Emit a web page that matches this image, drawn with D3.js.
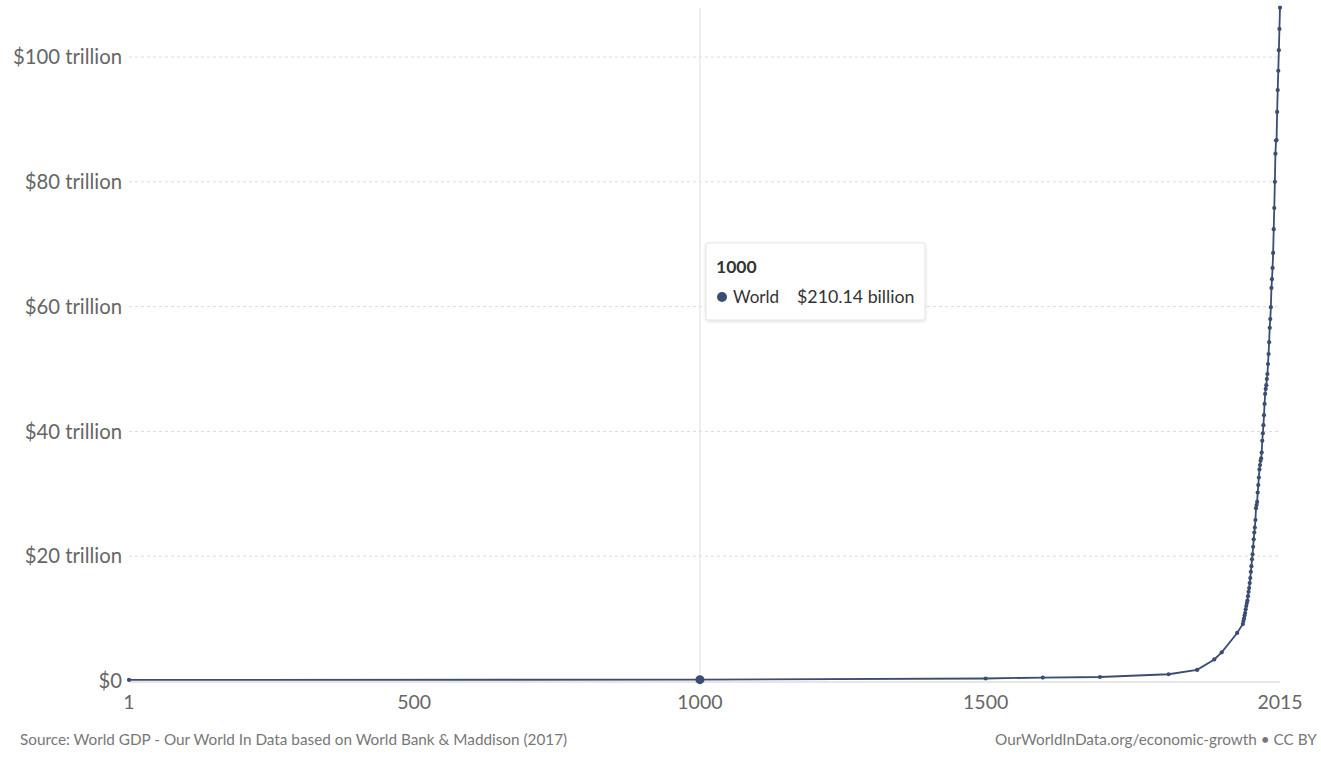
<!DOCTYPE html>
<html>
<head>
<meta charset="utf-8">
<script src="https://cdn.jsdelivr.net/npm/d3@7"></script>
<style>
  html, body { margin: 0; padding: 0; background: #fff; }
  svg { display: block; font-family: Lato, "Open Sans", sans-serif; }
</style>
</head>
<body>
<svg id="chart" width="1321" height="760"></svg>
<script>
// World GDP (trillions of 2011 int-$)
const earlyYears = [1, 1000, 1500, 1600, 1700, 1820, 1870, 1900, 1913, 1940];
const earlyValues = [0.18, 0.21014, 0.40, 0.55, 0.64, 1.08, 1.78, 3.45, 4.6, 7.7];
const modernYears = d3.range(1950, 2016);
const modernValues = [
  9.13, 9.6, 10.0, 10.5, 10.9, 11.5, 12.0, 12.5, 12.9, 13.6,
  14.3, 14.9, 15.7, 16.5, 17.5, 18.4, 19.5, 20.3, 21.5, 22.7,
  23.8, 24.6, 25.8, 27.7, 28.2, 28.7, 30.2, 31.4, 32.6, 33.9,
  34.6, 35.3, 35.7, 36.6, 38.5, 39.7, 41.0, 42.6, 44.4, 46.0,
  46.8, 47.4, 48.4, 49.2, 50.8, 52.4, 54.3, 56.6, 58.0, 59.9,
  63.0, 64.4, 66.2, 68.6, 72.4, 75.8, 80.0, 84.5, 86.6, 86.7,
  91.2, 94.7, 97.8, 101.1, 104.5, 107.9
];
const yTicks = [0, 20, 40, 60, 80, 100];
const yTickLabels = ["$0", "$20 trillion", "$40 trillion", "$60 trillion", "$80 trillion", "$100 trillion"];
const xTicks = [1, 500, 1000, 1500, 2015];
const hoverYear = 1000;
const hoverLabel = "$210.14 billion";
const seriesName = "World";
const sourceText = "Source: World GDP - Our World In Data based on World Bank & Maddison (2017)";
const creditText = "OurWorldInData.org/economic-growth • CC BY";

const years = earlyYears.concat(modernYears);
const values = earlyValues.concat(modernValues);
const data = years.map((y, i) => ({ year: y, value: values[i] }));

const svg = d3.select("#chart");
const left = 129, right = 1280, bottom = 681;
const x = d3.scaleLinear().domain([1, 2015]).range([left, right]);
const y = d3.scaleLinear().domain([0, 100]).range([bottom, 57]);

const lineColor = "#3b4d72";

// gridlines
svg.append("g").selectAll("line").data(yTicks.filter(d => d > 0)).join("line")
  .attr("x1", left).attr("x2", right)
  .attr("y1", d => y(d)).attr("y2", d => y(d))
  .attr("stroke", "#dcdcdc").attr("stroke-dasharray", "3,3").attr("stroke-width", 1);

// x axis baseline
svg.append("line").attr("x1", left).attr("x2", right)
  .attr("y1", bottom + 1).attr("y2", bottom + 1)
  .attr("stroke", "#ccc").attr("stroke-width", 1);

// y labels
svg.append("g").selectAll("text").data(yTicks).join("text")
  .attr("x", 122).attr("y", d => y(d))
  .attr("dy", "0.35em").attr("text-anchor", "end")
  .attr("font-size", 20.3).attr("fill", "#666")
  .text((d, i) => yTickLabels[i]);

// x labels
svg.append("g").selectAll("text").data(xTicks).join("text")
  .attr("x", d => x(d)).attr("y", 702)
  .attr("dy", "0.35em").attr("text-anchor", "middle")
  .attr("font-size", 19.5).attr("fill", "#666")
  .text(d => d);

// hover line
svg.append("line").attr("x1", x(hoverYear)).attr("x2", x(hoverYear))
  .attr("y1", 8).attr("y2", bottom)
  .attr("stroke", "#e0e0e0").attr("stroke-width", 1);

// data line
const line = d3.line().x(d => x(d.year)).y(d => y(d.value));
svg.append("path").datum(data)
  .attr("fill", "none").attr("stroke", lineColor).attr("stroke-width", 1.8)
  .attr("d", line);

svg.append("g").selectAll("circle").data(data).join("circle")
  .attr("cx", d => x(d.year)).attr("cy", d => y(d.value))
  .attr("r", 2.1).attr("fill", lineColor);

const hv = data.find(d => d.year === hoverYear);
svg.append("circle").attr("cx", x(hv.year)).attr("cy", y(hv.value))
  .attr("r", 4.5).attr("fill", lineColor);

// tooltip
const tt = svg.append("g").attr("transform", "translate(706,243)");
const defs = svg.append("defs");
const f = defs.append("filter").attr("id", "sh").attr("x", "-10%").attr("y", "-10%").attr("width", "130%").attr("height", "140%");
f.append("feDropShadow").attr("dx", 0).attr("dy", 1).attr("stdDeviation", 1.5).attr("flood-color", "#000").attr("flood-opacity", 0.15);
tt.append("rect").attr("width", 219).attr("height", 77).attr("rx", 2)
  .attr("fill", "#fff").attr("stroke", "#e4e4e4").attr("filter", "url(#sh)");
tt.append("text").attr("x", 10).attr("y", 24).attr("dy", "0.35em")
  .attr("font-size", 17.5).attr("font-weight", "bold").attr("fill", "#333").text(hoverYear);
tt.append("circle").attr("cx", 16).attr("cy", 54).attr("r", 5).attr("fill", lineColor);
tt.append("text").attr("x", 27).attr("y", 54).attr("dy", "0.35em")
  .attr("font-size", 17).attr("fill", "#333").text(seriesName);
tt.append("text").attr("x", 91).attr("y", 54).attr("dy", "0.35em")
  .attr("font-size", 17.8).attr("fill", "#333").text(hoverLabel);

// footer
svg.append("text").attr("x", 20).attr("y", 740).attr("dy", "0.35em")
  .attr("font-size", 15.3).attr("fill", "#777").text(sourceText);
svg.append("text").attr("x", 995).attr("y", 740).attr("dy", "0.35em")
  .attr("font-size", 15.3).attr("fill", "#777").text(creditText);
</script>
</body>
</html>
